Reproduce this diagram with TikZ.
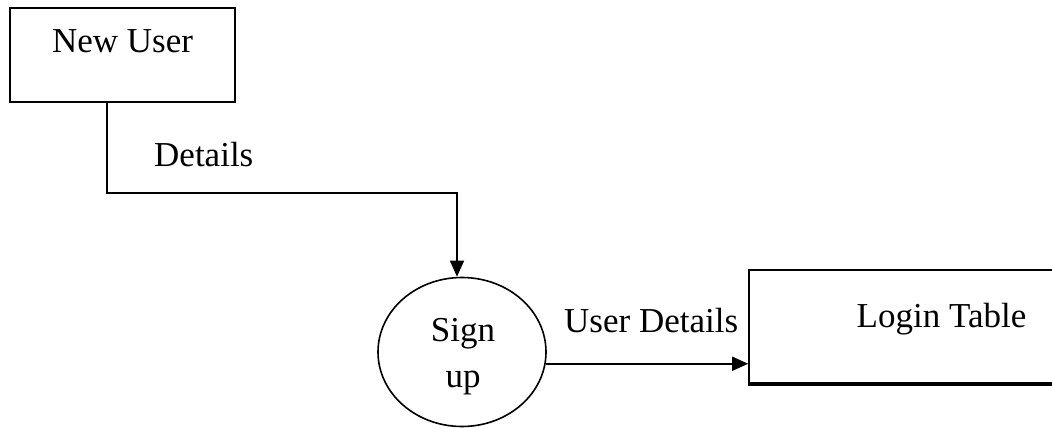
\documentclass[tikz,border=0pt]{standalone}
\usepackage{fontspec}
\setmainfont{Liberation Serif}
\usetikzlibrary{shapes.geometric,arrows.meta}
\begin{document}
\begin{tikzpicture}[x=1pt,y=1pt,
  every node/.style={font=\fontsize{35}{46}\selectfont},
  boxnode/.style={draw,line width=1.6pt,rectangle,inner sep=0pt},
  procnode/.style={draw,line width=1.6pt,ellipse,inner sep=0pt,minimum width=168pt,minimum height=149pt},
  txt/.style={inner sep=0pt},
  flow/.style={line width=1.6pt,-{Triangle[length=16pt,width=14pt]}}]
\useasboundingbox (0,0) rectangle (1052,428);
% New User box
\node[boxnode,minimum width=225pt,minimum height=94pt] (nu) at (122.5,373) {};
\node[txt,anchor=base] (nut) at (122.5,375) {New User};
% Sign up process
\node[procnode] (su) at (462,76) {};
\node[txt,anchor=base] (sut1) at (463,86) {Sign};
\node[txt,anchor=base] (sut2) at (463,40) {up};
% Login Table store
\node[boxnode,minimum width=311pt,minimum height=113pt] (lt) at (904.5,101.5) {};
\draw[line width=4pt] (lt.south west) -- (lt.south east);
\node[txt,anchor=base] (ltt) at (941.5,100) {Login Table};
% Flow 1
\coordinate (c1) at (107,235);
\coordinate (c2) at (457,235);
\draw[flow] (nu.south -| c1) -- (c1) -- (c2) -- (c2 |- su.north);
\node[txt,anchor=base west] (d1) at (154,261) {Details};
% Flow 2
\draw[flow] (su.-8) -- (su.-8 -| lt.west);
\node[txt,anchor=base west] (d2) at (564,95) {User Details};
\end{tikzpicture}
\end{document}
